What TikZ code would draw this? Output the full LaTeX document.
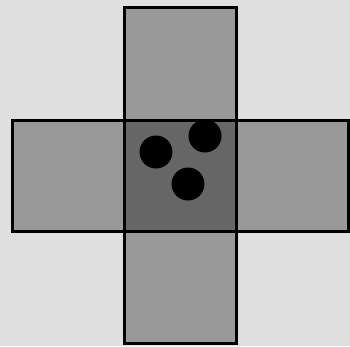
\documentclass[tikz,border=0pt]{standalone}
\begin{document}
\begin{tikzpicture}[x=1pt,y=-1pt,
  arm/.style={fill=armgray,draw=black,line width=3pt},
  core/.style={fill=coregray,draw=black,line width=3pt},
  dot/.style={fill=black}]
\definecolor{bggray}{HTML}{DFDFDF}
\definecolor{armgray}{HTML}{999999}
\definecolor{coregray}{HTML}{666666}
\fill[bggray] (0,0) rectangle (350,346);
\useasboundingbox (0,0) rectangle (350,346);
\draw[arm] (124,7) rectangle (236,120);
\draw[arm] (12,120) rectangle (124,231);
\draw[arm] (236,120) rectangle (348,231);
\draw[arm] (124,231) rectangle (236,343);
\draw[core] (124,120) rectangle (236,231);
\fill[dot] (156,152) circle (16.5);
\fill[dot] (205,136) circle (16.5);
\fill[dot] (188,184) circle (16.5);
\end{tikzpicture}
\end{document}
